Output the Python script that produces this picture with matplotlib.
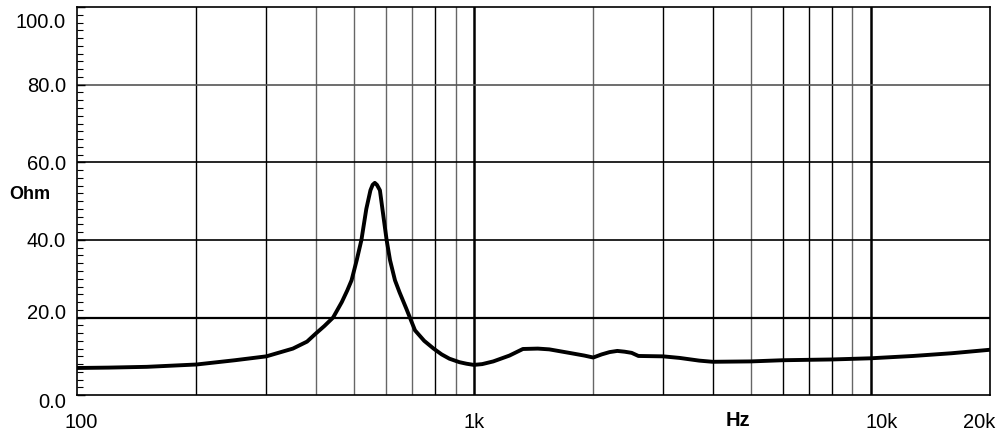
import matplotlib
matplotlib.use("Agg")
import matplotlib.pyplot as plt
from matplotlib.transforms import ScaledTranslation
from matplotlib.ticker import FixedLocator, MultipleLocator

# ---- data ----
freq_hz = [100, 120, 150, 200, 250, 300, 350, 380, 400, 420, 442, 465, 480, 492,
           507, 521, 536, 549, 556, 563, 570, 580, 589, 603, 615, 633, 650, 676,
           711, 750, 792, 830, 868, 920, 959, 1000, 1050, 1120, 1230, 1330, 1450,
           1550, 1740, 1900, 2000, 2100, 2200, 2300, 2400, 2500, 2600, 3000, 3300,
           3700, 4000, 5000, 6000, 8000, 10000, 12800, 16000, 20000]
impedance_ohm = [7.0, 7.1, 7.3, 7.9, 9.0, 10.0, 12.0, 13.8, 15.9, 17.8, 20.0, 24.0,
                 27.0, 29.6, 34.8, 40.0, 48.0, 52.8, 54.2, 54.7, 54.2, 52.8, 47.7,
                 40.0, 34.8, 29.6, 26.5, 22.3, 16.7, 14.0, 12.0, 10.5, 9.4, 8.5,
                 8.1, 7.8, 8.0, 8.7, 10.2, 11.9, 12.0, 11.8, 10.9, 10.2, 9.7, 10.5,
                 11.1, 11.4, 11.2, 10.9, 10.1, 10.0, 9.6, 8.9, 8.6, 8.7, 9.0, 9.2,
                 9.5, 10.1, 10.8, 11.7]

y_ticks = [0, 20, 40, 60, 80, 100]
y_tick_labels = ["0.0", "20.0", "40.0", "60.0", "80.0", "100.0"]
x_ticks = [100, 1000, 10000, 20000]
x_tick_labels = ["100", "1k", "10k", "20k"]
v_grid = [200, 300, 400, 500, 600, 700, 800, 900, 1000,
          2000, 3000, 4000, 5000, 6000, 7000, 8000, 9000, 10000]
h_grid = [20, 40, 60, 80]

plt.rcParams['font.family'] = ['Liberation Sans', 'DejaVu Sans']

fig = plt.figure(figsize=(10, 4.44), dpi=100)
ax = fig.add_axes([0.077, 0.110, 0.913, 0.874])
ax.set_xscale('log')
ax.set_xlim(100, 20000)
ax.set_ylim(0, 100)

# grid
gray_v = {400, 500, 600, 700, 900, 2000, 5000, 9000}
for f in v_grid:
    if f in (1000, 10000):
        ax.axvline(f, color='black', lw=1.8, zorder=1)
    elif f in gray_v:
        ax.axvline(f, color='#666666', lw=1.0, zorder=1)
    else:
        ax.axvline(f, color='black', lw=1.0, zorder=1)
for h in h_grid:
    ax.axhline(h, color='#555555' if h == 80 else 'black',
               lw=1.6 if h == 20 else 1.2, zorder=1)

ax.plot(freq_hz, impedance_ohm, color='black', lw=2.8, zorder=3,
        solid_joinstyle='round', solid_capstyle='round')

for s in ax.spines.values():
    s.set_color('black')
    s.set_linewidth(1.2)

# y ticks
ax.yaxis.set_major_locator(FixedLocator(y_ticks))
ax.set_yticklabels(y_tick_labels)
ax.yaxis.set_minor_locator(MultipleLocator(2))
ax.tick_params(axis='y', which='major', direction='in', length=6, width=1.0,
               labelsize=14.5, pad=8)
ax.tick_params(axis='y', which='minor', direction='in', length=4, width=0.8)
y_offsets = {"0.0": -5, "20.0": 6, "100.0": -13}
for lbl in ax.get_yticklabels():
    dy = y_offsets.get(lbl.get_text(), 0)
    if dy:
        lbl.set_transform(lbl.get_transform() +
                          ScaledTranslation(0, dy / 100, fig.dpi_scale_trans))

# x ticks
ax.xaxis.set_major_locator(FixedLocator(x_ticks))
ax.xaxis.set_minor_locator(FixedLocator([]))
ax.set_xticklabels(x_tick_labels)
ax.tick_params(axis='x', which='major', length=0, labelsize=14.5, pad=13)
x_offsets = {"100": 4, "10k": 11, "20k": -11}
for lbl in ax.get_xticklabels():
    dx = x_offsets.get(lbl.get_text(), 0)
    if dx:
        lbl.set_transform(lbl.get_transform() +
                          ScaledTranslation(dx / 100, 0, fig.dpi_scale_trans))

ax.text(4630, -6.5, "Hz", ha='center', va='center', fontsize=14.5,
        fontweight='bold', clip_on=False)

ax.set_ylabel("Ohm", rotation=0, fontsize=13, fontweight='bold',
              ha='center', va='center')
ax.yaxis.set_label_coords(-0.052, 0.516)

fig.savefig("out.png", dpi=100, facecolor='white')
